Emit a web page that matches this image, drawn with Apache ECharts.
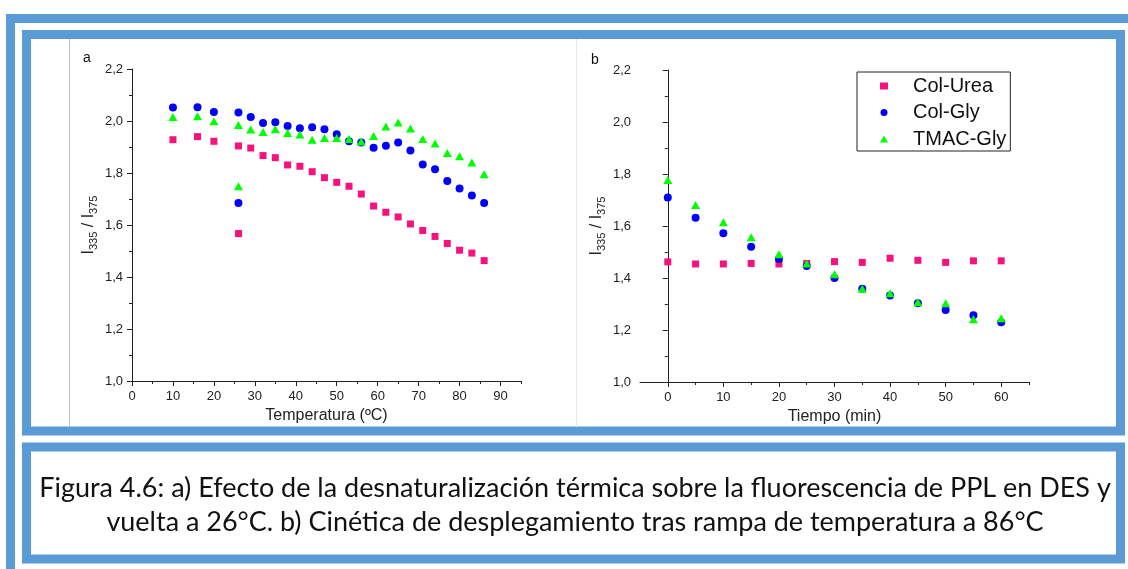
<!DOCTYPE html>
<html>
<head>
<meta charset="utf-8">
<script src="https://cdn.jsdelivr.net/npm/echarts@6/dist/echarts.min.js"></script>
<style>
  html, body { margin: 0; padding: 0; background: #ffffff; }
  #chart { width: 1128px; height: 569px; }
</style>
</head>
<body>
<div id="chart"></div>
<script>
// Panel a: thermal ramp (°C) and the final point back at 26 °C
const tempA = [10, 16, 20, 26, 29, 32, 35, 38, 41, 44, 47, 50, 53, 56, 59, 62, 65, 68, 71, 74, 77, 80, 83, 86];
const tempReturn = 26;
const ureaA = [1.928, 1.940, 1.922, 1.904, 1.896, 1.867, 1.859, 1.831, 1.826, 1.805, 1.782, 1.764, 1.749, 1.719, 1.673, 1.649, 1.631, 1.604, 1.579, 1.556, 1.529, 1.503, 1.492, 1.463];
const glyA  = [2.052, 2.053, 2.035, 2.033, 2.015, 1.992, 1.995, 1.981, 1.972, 1.976, 1.968, 1.949, 1.922, 1.917, 1.897, 1.905, 1.917, 1.887, 1.833, 1.814, 1.769, 1.740, 1.713, 1.685];
const tmacA = [2.015, 2.018, 1.999, 1.985, 1.967, 1.958, 1.968, 1.954, 1.948, 1.928, 1.935, 1.935, 1.931, 1.921, 1.942, 1.979, 1.994, 1.971, 1.931, 1.913, 1.877, 1.864, 1.840, 1.795];
const ureaReturn = 1.567;
const glyReturn = 1.685;
const tmacReturn = 1.749;

// Panel b: unfolding kinetics after the ramp to 86 °C
const timeB = [0, 5, 10, 15, 20, 25, 30, 35, 40, 45, 50, 55, 60];
const ureaB = [1.462, 1.454, 1.454, 1.456, 1.454, 1.456, 1.463, 1.460, 1.476, 1.468, 1.460, 1.466, 1.466];
const glyB  = [1.710, 1.632, 1.572, 1.520, 1.473, 1.446, 1.400, 1.359, 1.333, 1.303, 1.277, 1.257, 1.230];
const tmacB = [1.777, 1.681, 1.614, 1.557, 1.491, 1.456, 1.414, 1.359, 1.341, 1.307, 1.303, 1.241, 1.245];

const seriesNames = ['Col-Urea', 'Col-Gly', 'TMAC-Gly'];

// Axis tick positions
const ticksA = [0, 10, 20, 30, 40, 50, 60, 70, 80, 90];
const minorTicksA = [5, 15, 25, 35, 45, 55, 65, 75, 85, 95];
const ticksB = [0, 10, 20, 30, 40, 50, 60];
const minorTicksB = [5, 15, 25, 35, 45, 55, 65];

const captionLines = [
  'Figura 4.6: a) Efecto de la desnaturalización térmica sobre la fluorescencia de PPL en DES y',
  'vuelta a 26°C. b) Cinética de desplegamiento tras rampa de temperatura a 86°C'
];

const FONT = '"Liberation Sans", Arial, sans-serif';
const CAP_FONT = 'Lato, "Open Sans", sans-serif';
const AX = '#222222';
const FRAME = '#5b9bd5';
const colors = ['#f7127d', '#0000ff', '#00ff00'];
const symbols = ['rect', 'circle', 'triangle'];
const sizes = [7, 8, [9, 8]];

// caption size chosen so the first line spans the caption box
function fitFont(text, family, target) {
  const ctx = document.createElement('canvas').getContext('2d');
  ctx.font = '100px ' + family;
  return 100 * target / ctx.measureText(text).width;
}
const capSize = fitFont(captionLines[0], CAP_FONT, 1072);

const pairs = (xs, ys) => xs.map((x, i) => [x, ys[i]]);

function yAxisFor(gridIndex) {
  return {
    type: 'value', gridIndex: gridIndex, min: 1.0, max: 2.2, interval: 0.2,
    name: '{i|I}{s|335}{i| / I}{s|375}',
    nameLocation: 'middle', nameRotate: 90, nameGap: 33,
    nameTextStyle: {
      color: AX, fontFamily: FONT,
      rich: {
        i: { fontSize: 16, lineHeight: 20, fontFamily: FONT, color: AX },
        s: { fontSize: 11, lineHeight: 11, verticalAlign: 'bottom', fontFamily: FONT, color: AX }
      }
    },
    axisLine: { show: true, lineStyle: { color: AX, width: 1 } },
    axisTick: { show: true, inside: false, length: 5, lineStyle: { color: AX } },
    minorTick: { show: true, splitNumber: 2, length: 3, lineStyle: { color: AX } },
    splitLine: { show: false },
    axisLabel: {
      fontSize: 13, color: AX, fontFamily: FONT, margin: 9,
      formatter: v => v.toFixed(1).replace('.', ',')
    }
  };
}

function xAxisFor(gridIndex, min, max, ticks, name) {
  return {
    type: 'value', gridIndex: gridIndex, position: 'bottom', min: min, max: max,
    name: name, nameLocation: 'middle', nameGap: 25,
    nameTextStyle: { fontSize: 16, color: AX, fontFamily: FONT },
    axisLine: { show: true, onZero: false, lineStyle: { color: AX, width: 1 } },
    axisTick: { show: true, inside: false, length: 5, customValues: ticks, lineStyle: { color: AX } },
    axisLabel: { fontSize: 13, color: AX, fontFamily: FONT, margin: 9, customValues: ticks },
    splitLine: { show: false }
  };
}

function minorXAxisFor(gridIndex, min, max, ticks) {
  return {
    type: 'value', gridIndex: gridIndex, position: 'bottom', min: min, max: max,
    axisLine: { show: false, onZero: false },
    axisTick: { show: true, inside: false, length: 3, customValues: ticks, lineStyle: { color: AX } },
    axisLabel: { show: false },
    splitLine: { show: false }
  };
}

const seriesList = [];
const dataA = [
  pairs(tempA, ureaA).concat([[tempReturn, ureaReturn]]),
  pairs(tempA, glyA).concat([[tempReturn, glyReturn]]),
  pairs(tempA, tmacA).concat([[tempReturn, tmacReturn]])
];
const dataB = [pairs(timeB, ureaB), pairs(timeB, glyB), pairs(timeB, tmacB)];
[dataA, dataB].forEach((set, g) => {
  set.forEach((d, k) => {
    seriesList.push({
      type: 'scatter', name: seriesNames[k], xAxisIndex: g, yAxisIndex: g,
      data: d, symbol: symbols[k], symbolSize: sizes[k],
      itemStyle: { color: colors[k], opacity: 1 },
      emphasis: { disabled: true }, animation: false
    });
  });
});

const chart = echarts.init(document.getElementById('chart'), null, { renderer: 'canvas' });
chart.setOption({
  backgroundColor: '#ffffff',
  animation: false,
  grid: [
    { left: 132, top: 69, width: 389, height: 312 },
    { left: 640, top: 70, width: 389, height: 312 }
  ],
  xAxis: [
    xAxisFor(0, 0, 95, ticksA, 'Temperatura (ºC)'),
    xAxisFor(1, -5, 65, ticksB, 'Tiempo (min)'),
    minorXAxisFor(0, 0, 95, minorTicksA),
    minorXAxisFor(1, -5, 65, minorTicksB)
  ],
  yAxis: [yAxisFor(0), yAxisFor(1)],
  legend: {
    data: seriesNames.map((n, k) => ({ name: n, icon: symbols[k] })),
    orient: 'vertical', left: 857, top: 72,
    padding: [4, 4, 2, 23], itemGap: 6.5, itemWidth: 8, itemHeight: 7,
    borderColor: '#222', borderWidth: 1, selectedMode: false,
    textStyle: { fontSize: 20, lineHeight: 20, color: '#111', fontFamily: FONT, padding: [0, 0, 0, 20] }
  },
  series: seriesList,
  graphic: [
    // outer page frame
    { type: 'rect', shape: { x: 10.5, y: 18.5, width: 1140, height: 580 }, style: { fill: null, stroke: FRAME, lineWidth: 9 }, silent: true },
    // chart frame
    { type: 'rect', shape: { x: 26.5, y: 34.5, width: 1094, height: 396.5 }, style: { fill: null, stroke: FRAME, lineWidth: 9 }, silent: true },
    // caption frame
    { type: 'rect', shape: { x: 26.5, y: 447, width: 1094, height: 112 }, style: { fill: null, stroke: FRAME, lineWidth: 9 }, silent: true },
    // panel edges
    { type: 'line', shape: { x1: 69.5, y1: 39, x2: 69.5, y2: 427 }, style: { stroke: '#c4c4c4', lineWidth: 1 }, silent: true },
    { type: 'line', shape: { x1: 576.5, y1: 39, x2: 576.5, y2: 427 }, style: { stroke: '#e6e6e6', lineWidth: 1 }, silent: true },
    // panel letters
    { type: 'text', left: 83, top: 51, style: { text: 'a', fill: '#111', font: '14px ' + FONT }, silent: true },
    { type: 'text', left: 591, top: 53, style: { text: 'b', fill: '#111', font: '14px ' + FONT }, silent: true },
    // caption
    { type: 'text', x: 575, y: 488, style: { text: captionLines[0], fill: '#111', font: capSize.toFixed(2) + 'px ' + CAP_FONT, textAlign: 'center', textVerticalAlign: 'middle' }, silent: true },
    { type: 'text', x: 575, y: 522, style: { text: captionLines[1], fill: '#111', font: capSize.toFixed(2) + 'px ' + CAP_FONT, textAlign: 'center', textVerticalAlign: 'middle' }, silent: true }
  ]
});
</script>
</body>
</html>
